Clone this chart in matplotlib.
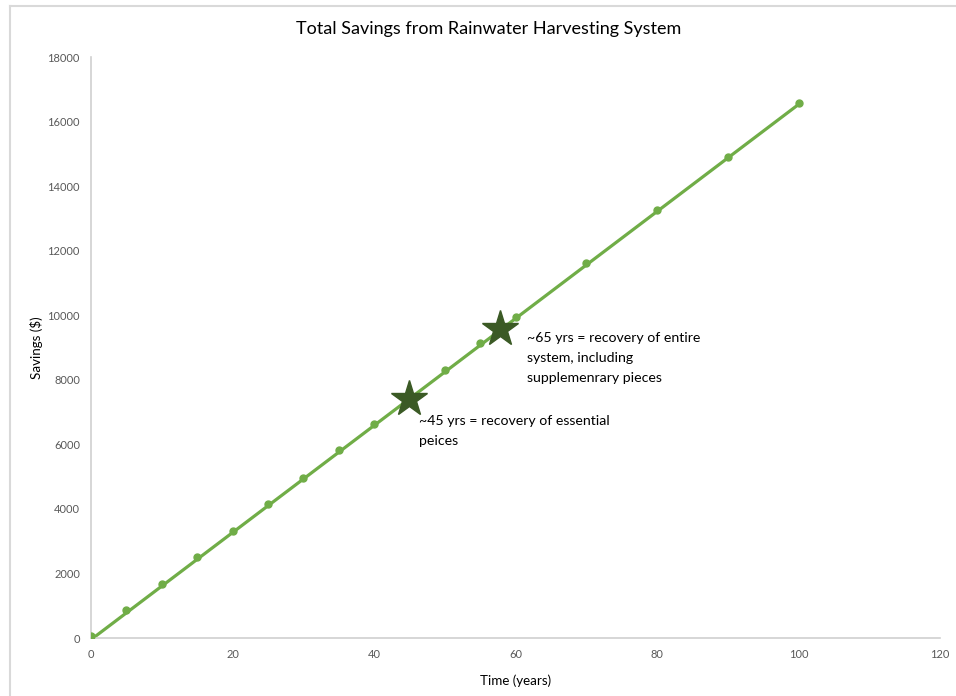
import numpy as np
import matplotlib
matplotlib.use("Agg")
import matplotlib.pyplot as plt
from matplotlib.lines import Line2D

plt.rcParams['font.family'] = ['Lato', 'DejaVu Sans']

years = [0, 5, 10, 15, 20, 25, 30, 35, 40, 50, 55, 60, 70, 80, 90, 100]
savings = [60, 870, 1670, 2510, 3315, 4150, 4960, 5820, 6630, 8300, 9140, 9945,
           11620, 13260, 14900, 16570]
trend_slope = 165.8
trend_intercept = -50
star_x = [45, 57.8]
star_y = [7420, 9560]
notes = ["~45 yrs = recovery of essential\npeices",
         "~65 yrs = recovery of entire\nsystem, including\nsupplemenrary pieces"]
note_x = [46.3, 61.6]
note_y = [6900, 9480]
title = "Total Savings from Rainwater Harvesting System"

green = "#70ad47"
dark = "#3b5a25"
grey = "#595959"

fig = plt.figure(figsize=(9.56, 6.96), dpi=100)
ax = fig.add_axes([0.0952, 0.0833, 0.8881, 0.8348])

ax.plot(years, savings, 'o', color=green, ms=5, zorder=3)
fx = np.array([years[0], years[-1]])
ax.plot(fx, trend_intercept + trend_slope * fx, '-', color=green, lw=2.3, zorder=2,
        solid_capstyle='butt')
ax.plot(star_x, star_y, '*', color=dark, ms=27, zorder=4)
for t, x, y in zip(notes, note_x, note_y):
    ax.text(x, y, t, fontsize=10.2, va='top', ha='left', color='black', linespacing=1.78)

ax.set_xlim(0, 120)
ax.set_ylim(0, 18000)
ax.set_xticks(range(0, 121, 20))
ax.set_yticks(range(0, 18001, 2000))
ax.tick_params(length=0, labelsize=8, colors=grey, pad=8)
for s in ['top', 'right']:
    ax.spines[s].set_visible(False)
for s in ['left', 'bottom']:
    ax.spines[s].set_color('#d0d0d0')
    ax.spines[s].set_linewidth(1.2)
ax.set_xlabel("Time (years)", fontsize=9.6, labelpad=10)
ax.set_ylabel("Savings ($)", fontsize=9.6, labelpad=3)
fig.text(0.511, 0.958, title, ha='center', va='center', fontsize=13)

fig.add_artist(Line2D([0.0105, 0.0105], [0, 0.991], transform=fig.transFigure, color='#d9d9d9', lw=1.5))
fig.add_artist(Line2D([0.0105, 1], [0.991, 0.991], transform=fig.transFigure, color='#d9d9d9', lw=1.5))

fig.savefig("out.png", dpi=100)
